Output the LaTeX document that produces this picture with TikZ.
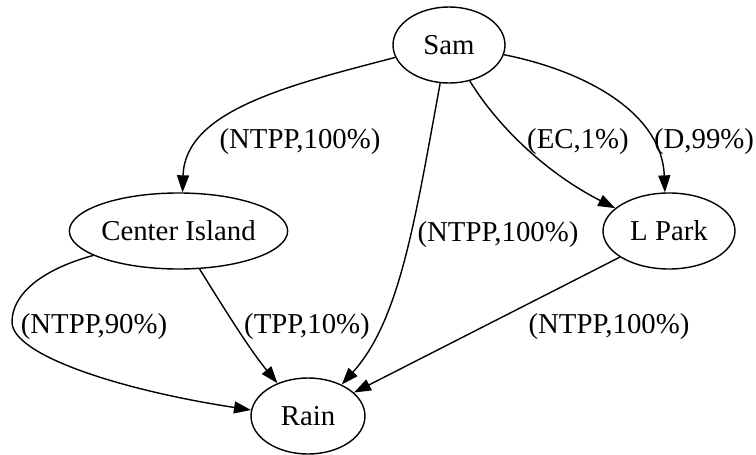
\documentclass[tikz,border=0pt]{standalone}
\usepackage{fontspec}
\setmainfont{Liberation Serif}
\usetikzlibrary{shapes,arrows.meta}

\begin{document}
\begin{tikzpicture}[x=0.5pt,y=-0.5pt,
  knoten/.style={draw,ellipse,line width=0.7pt,inner sep=0pt,minimum height=38pt},
  kante/.style={draw,line width=0.7pt,-{Triangle[length=8.5pt,width=6pt]}},
  beschriftung/.style={inner sep=0pt},
  font=\fontsize{14.4}{17}\selectfont]
  \useasboundingbox (0,0) rectangle (756,455);
  % Knoten
  \node[knoten,minimum width=56pt] (sam) at (449,45) {Sam};
  \node[knoten,minimum width=105.5pt] (center-island) at (178.5,231) {Center Island};
  \node[knoten,minimum width=66pt] (l-park) at (669,231) {L Park};
  \node[knoten,minimum width=57pt] (rain) at (308,416) {Rain};
  % Kanten
  \draw[kante] (sam.193) .. controls (290,85) and (185,110) .. (center-island.84);
  \draw[kante] (sam.-103) .. controls (415,220) and (400,320) .. (rain.43);
  \draw[kante] (sam.-60) .. controls (500,130) and (550,175) .. (l-park.157);
  \draw[kante] (sam.-10) .. controls (590,72) and (662,115) .. (l-park.96);
  \draw[kante] (center-island.-61) .. controls (225,310) and (250,350) .. (rain.133);
  \draw[kante] (center-island.196) .. controls (40,270) and (12,295) .. (12,322)
    .. controls (12,355) and (120,390) .. (rain.174);
  \draw[kante] (l-park.208) -- (rain.27);
  % Beschriftungen
  \node[beschriftung] (lab-sam-ci) at (300,142) {(NTPP,100\%)};
  \node[beschriftung] (lab-sam-rain) at (498,235) {(NTPP,100\%)};
  \node[beschriftung] (lab-sam-ec) at (578,142) {(EC,1\%)};
  \node[beschriftung] (lab-sam-d) at (704,142) {(D,99\%)};
  \node[beschriftung] (lab-ci-ntpp) at (94,327) {(NTPP,90\%)};
  \node[beschriftung] (lab-ci-tpp) at (307,327) {(TPP,10\%)};
  \node[beschriftung] (lab-park-rain) at (609,327) {(NTPP,100\%)};
\end{tikzpicture}
\end{document}
